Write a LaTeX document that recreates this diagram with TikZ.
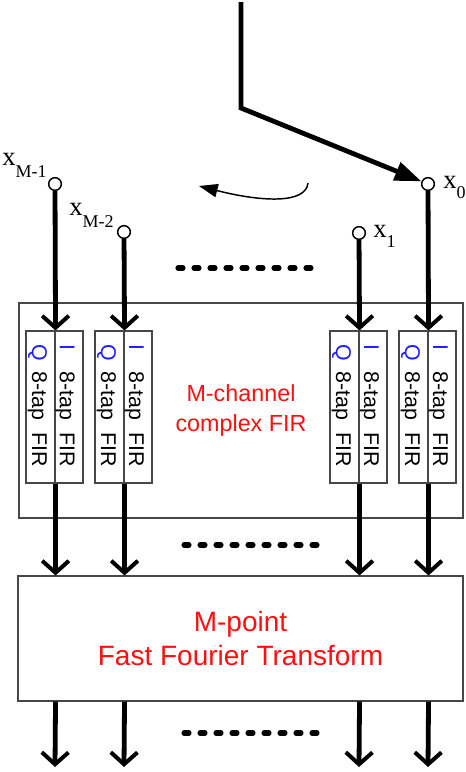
\documentclass[tikz,border=0pt]{standalone}
\usepackage{fontspec}
\setmainfont{Liberation Sans}
\newfontfamily\serifx{Liberation Serif}
\usetikzlibrary{arrows.meta}
\definecolor{boxgray}{HTML}{474747}
\definecolor{txtred}{HTML}{FF1010}
\definecolor{txtblue}{HTML}{1E1EFF}
\begin{document}
\begin{tikzpicture}[x=0.75pt,y=-0.75pt,
  box/.style={draw=boxgray,line width=0.8pt,inner sep=0},
  col/.style={draw=boxgray,line width=0.8pt,inner sep=0,minimum height=114pt},
  port/.style={circle,draw=black,line width=1.1pt,fill=white,minimum size=9.5pt,inner sep=0},
  sig/.style={line width=3.6pt,-{Straight Barb[length=9pt,width=20pt,line width=3pt]}},
  dots/.style={line width=3.8pt,line cap=round,dash pattern=on 3.75pt off 8.25pt},
  coltxt/.style={rotate=-90,inner sep=0,font=\fontsize{16}{16}\selectfont},
  lbl/.style={inner sep=0,anchor=base west,font=\serifx\fontsize{20}{20}\selectfont},
]
\useasboundingbox[fill=white] (0,0) rectangle (465,772);

% outer boxes
\node[box,minimum width=333pt,minimum height=161.25pt,text=txtred,align=center,
      font=\fontsize{17.5}{22.5}\selectfont] (fir) at (241,410.5) {M-channel\\complex FIR};
\node[box,minimum width=333.75pt,minimum height=93.75pt,text=txtred,align=center,
      font=\fontsize{21}{26}\selectfont] (fft) at (240.5,638.5) {M-point\\Fast Fourier Transform};

% channels
\foreach \n/\d/\py in {a/55/184,b/124/232,c/359/233,d/428/184}{
  \node[col,minimum width=21.75pt] (q\n) at (\d-14.5,407) {};
  \node[col,minimum width=21pt] (i\n) at (\d+14,407) {};
  \node[coltxt,anchor=base west,text=txtblue] (qq\n) at (\d-23,344) {Q};
  \node[coltxt,anchor=base] (qt\n) at (\d-23,396) {8-tap};
  \node[coltxt,anchor=base] (qf\n) at (\d-23,450) {FIR};
  \node[coltxt,anchor=base west,text=txtblue] (ii\n) at (\d+5,344) {I};
  \node[coltxt,anchor=base] (it\n) at (\d+5,396) {8-tap};
  \node[coltxt,anchor=base] (if\n) at (\d+5,450) {FIR};
  \node[port] (p\n) at (\d,\py) {};
  \draw[sig] (p\n) -- (q\n.north east);
  \draw[sig] (q\n.south east) -- (q\n.south east |- fft.north);
  \coordinate (o\n) at (\d,767);
  \draw[sig] (q\n.south east |- fft.south) -- (o\n);
}

% port labels
\node[lbl] (lM1) at (2,165) {x\raisebox{-9pt}{\fontsize{13.5}{13.5}\selectfont M-1}};
\node[lbl] (lM2) at (69,215) {x\raisebox{-9pt}{\fontsize{13.5}{13.5}\selectfont M-2}};
\node[lbl] (l1) at (373,237) {x\raisebox{-7.5pt}{\fontsize{13.5}{13.5}\selectfont 1}};
\node[lbl] (l0) at (443,188) {x\raisebox{-7.5pt}{\fontsize{13.5}{13.5}\selectfont 0}};

% commutator
\coordinate (ctop) at (241,2);
\coordinate (cknee) at (241,108);
\draw[line width=3.6pt,-{Triangle[length=20pt,width=14pt]}] (ctop) -- (cknee) -- (pd);

% rotation arrow
\coordinate (rs) at (308,183);
\coordinate (re) at (199,186);
\draw[line width=1.1pt,-{Triangle[length=14pt,width=10pt]}] (rs) .. controls (306,204) and (262,202) .. (re);

% dots
\coordinate (d1s) at (178,268); \coordinate (d1e) at (313,268);
\coordinate (d2s) at (184,545); \coordinate (d2e) at (319,545);
\coordinate (d3s) at (184,733); \coordinate (d3e) at (319,733);
\draw[dots] (d1s) -- (d1e);
\draw[dots] (d2s) -- (d2e);
\draw[dots] (d3s) -- (d3e);
\end{tikzpicture}
\end{document}
